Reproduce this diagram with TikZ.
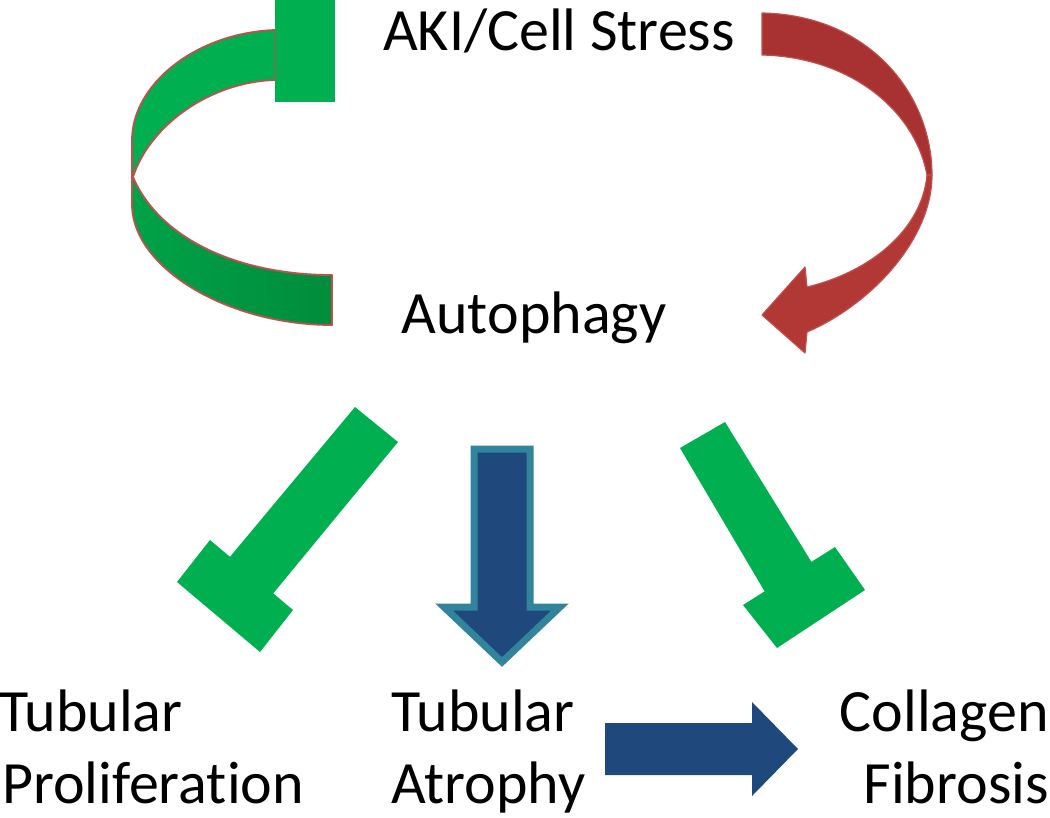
\documentclass[tikz,border=0pt]{standalone}
\usepackage{fontspec}
\setmainfont{Carlito}[Ligatures={NoCommon}]
\definecolor{gLight}{HTML}{00B050}
\definecolor{gDark}{HTML}{008C3C}
\definecolor{gMid}{HTML}{00A247}
\definecolor{rEdge}{HTML}{C0504D}
\definecolor{rFill}{HTML}{A83131}
\definecolor{rFillB}{HTML}{B23835}
\definecolor{bFill}{HTML}{1F497D}
\definecolor{bEdge}{HTML}{31849B}
\tikzset{
  lbl/.style={inner sep=0pt, font=\fontsize{60}{73}\selectfont},
  ribbon/.style={draw=rEdge, line width=1.8pt, line join=round},
  tbar/.style={fill=gLight, draw=none},
  blockarrow/.style={fill=bFill, draw=none}
}
\begin{document}
\begin{tikzpicture}[x=1pt,y=-1pt]
\useasboundingbox (0,0) rectangle (1050,817);
% green curved inhibitor (top left)
\path[ribbon, left color=gMid, right color=gDark]
  (132,177) -- (132,207) .. controls (135,270) and (230,325) .. (332,325)
  -- (332,275) .. controls (240,275) and (160,240) .. (133,177) -- cycle;
\path[ribbon, fill=gLight]
  (275,30) .. controls (195,33) and (132,85) .. (132,140) -- (132,177)
  -- (133,177) .. controls (150,125) and (210,82) .. (275,80) -- cycle;
\path[tbar] (275,0) rectangle (335,102);
% red curved arrow (top right)
\path[draw=rEdge, line width=1.2pt, fill=rFill, line join=round]
  (762,13) .. controls (870,15) and (932,95) .. (932,175)
  -- (927,175) .. controls (915,110) and (850,57) .. (762,55) -- cycle;
\path[draw=rEdge, line width=1.2pt, fill=rFillB, line join=round]
  (932,175) .. controls (932,240) and (870,305) .. (807,332)
  -- (805,353) -- (762,315) -- (805,267) -- (807,287)
  .. controls (870,272) and (922,230) .. (927,175) -- cycle;
% green inhibitor left
\path[tbar] (355,407) -- (398,442) -- (262,607) -- (219,570) -- cycle;
\path[tbar] (177,582) -- (210,540) -- (293,610) -- (260,652) -- cycle;
% green inhibitor right
\path[tbar] (680,448) -- (725,422) -- (822,579) -- (775,609) -- cycle;
\path[tbar] (743,605) -- (835,547) -- (865,590) -- (777,648) -- cycle;
% blue down arrow
\path[fill=bFill, draw=bEdge, line width=7pt, line join=miter]
  (474,449) -- (530,449) -- (530,607) -- (560,607) -- (502,662)
  -- (444,607) -- (474,607) -- cycle;
% blue right arrow
\path[blockarrow] (605,723) -- (752,723) -- (752,702) -- (798,749)
  -- (752,796) -- (752,775) -- (605,775) -- cycle;
% labels
\node[lbl, anchor=base] (aki) at (559,50) {AKI/Cell Stress};
\node[lbl, anchor=base] (auto) at (534,333) {Autophagy};
\node[lbl, anchor=base west] (tp1) at (-1,731) {Tubular};
\node[lbl, anchor=base west] (tp2) at (2,803) {Proliferation};
\node[lbl, anchor=base west] (ta1) at (391,731) {Tubular};
\node[lbl, anchor=base west] (ta2) at (391,803) {Atrophy};
\node[lbl, anchor=base east] (cf1) at (1049,731) {Collagen};
\node[lbl, anchor=base east] (cf2) at (1049,803) {Fibrosis};
\end{tikzpicture}
\end{document}
